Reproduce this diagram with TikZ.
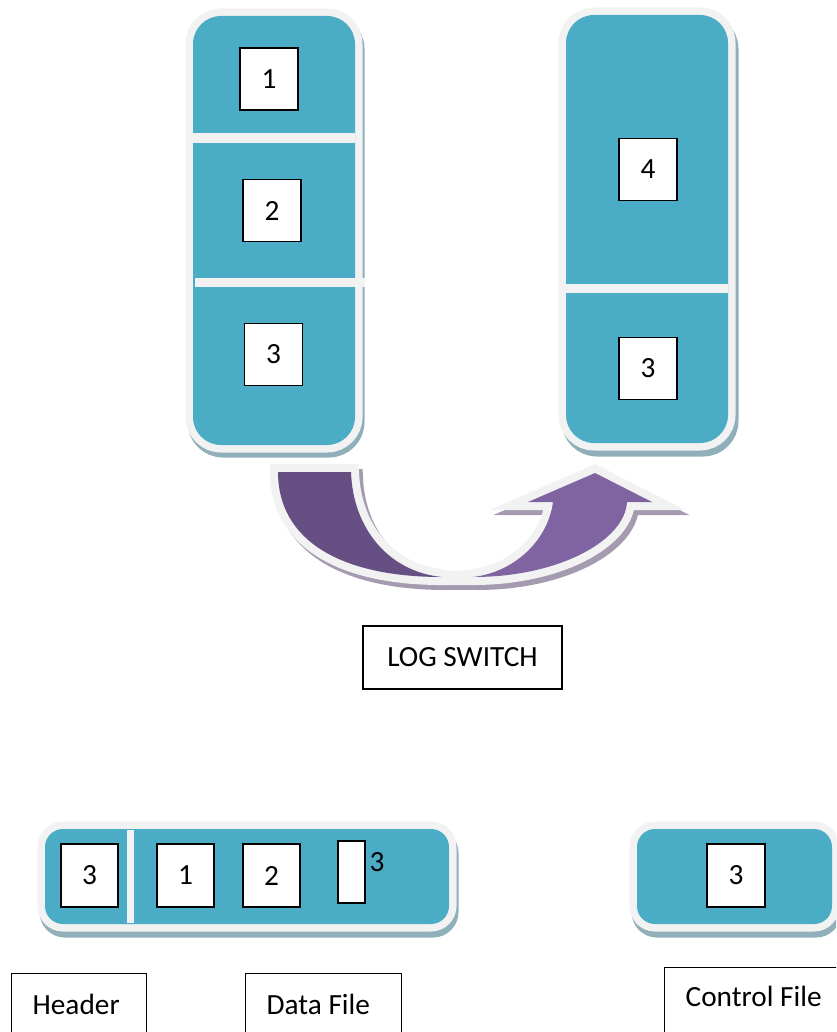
\documentclass[tikz,border=0pt]{standalone}
\usepackage{fontspec}
\setmainfont{Carlito}
\definecolor{tealfill}{HTML}{4BACC6}
\definecolor{bordergray}{HTML}{F2F2F2}
\definecolor{tealshadow}{HTML}{8FB0BA}
\definecolor{darkpurple}{HTML}{664F83}
\definecolor{lightpurple}{HTML}{8064A2}
\definecolor{purpleshadow}{HTML}{A59BB1}
\begin{document}
\begin{tikzpicture}[x=1pt,y=-1pt,
  colshadow/.style={fill=tealshadow, draw=tealshadow, line width=15pt},
  colborder/.style={draw=bordergray, line width=15pt},
  arrshadow/.style={fill=purpleshadow, draw=purpleshadow, line width=16pt, line join=miter},
  arrborder/.style={draw=bordergray, line width=16pt, line join=miter},
  bigfont/.style={font=\fontsize{29.3}{35}\selectfont},
  slot/.style={draw=black, line width=1.3pt, fill=white, minimum width=58pt, minimum height=62pt, inner sep=0pt, bigfont},
  labelbox/.style={draw=black, line width=1.3pt, fill=white, inner xsep=21pt, inner ysep=15pt, bigfont},
]
\useasboundingbox (0,0) rectangle (836,1032);
\clip (0,0) rectangle (836,1032);

% ---------- left column ----------
\path[colshadow, rounded corners=28pt] (195,21) rectangle (357,450);
\path[colborder, rounded corners=28pt] (193,16) rectangle (355,445);
\fill[tealfill, rounded corners=28pt] (193,16) rectangle (355,445);
\fill[bordergray] (193,133) rectangle (355,143);
\fill[bordergray] (195,278) rectangle (365,287);
\node[slot] (l1) at (269,79) {1};
\node[slot] (l2) at (272,210.5) {2};
\node[slot] (l3) at (273.5,354.5) {3};

% ---------- right column ----------
\path[colshadow, rounded corners=28pt] (569,21) rectangle (731,449);
\path[colborder, rounded corners=28pt] (566,15) rectangle (728,443);
\fill[tealfill, rounded corners=28pt] (566,15) rectangle (728,443);
\fill[bordergray] (566,284) rectangle (728,293);
\node[slot] (r4) at (648,169.5) {4};
\node[slot] (r3) at (648,368.5) {3};

% ---------- U-turn arrow ----------
\begin{scope}[shift={(4,5)}]
  \path[arrshadow] (278,472) -- (351,472) .. controls (353,530) and (390,572) .. (442,577)
     .. controls (340,577) and (278,540) .. (278,472) -- cycle;
  \path[arrshadow] (473,577) .. controls (560,577) and (625,540) .. (627,502) -- (652,502) -- (595,473)
     -- (528,502) -- (553,502) .. controls (548,540) and (515,572) .. (473,577) -- cycle;
  \fill[purpleshadow] (436,569) -- (480,569) -- (480,585) -- (436,585) -- cycle;
\end{scope}
\path[arrborder] (278,472) -- (351,472) .. controls (353,530) and (390,572) .. (442,577)
   .. controls (340,577) and (278,540) .. (278,472) -- cycle;
\path[arrborder] (473,577) .. controls (560,577) and (625,540) .. (627,502) -- (652,502) -- (595,473)
   -- (528,502) -- (553,502) .. controls (548,540) and (515,572) .. (473,577) -- cycle;
\fill[bordergray] (436,569) -- (455,571) -- (478,569) -- (478,585) -- (436,585) -- cycle;
\fill[darkpurple] (278,472) -- (351,472) .. controls (353,530) and (390,572) .. (442,577)
   .. controls (340,577) and (278,540) .. (278,472) -- cycle;
\fill[lightpurple] (473,577) .. controls (560,577) and (625,540) .. (627,502) -- (652,502) -- (595,473)
   -- (528,502) -- (553,502) .. controls (548,540) and (515,572) .. (473,577) -- cycle;

% ---------- LOG SWITCH ----------
\node[draw=black, line width=1.3pt, fill=white, minimum width=199pt, minimum height=63pt, inner sep=0pt, bigfont] (logswitch) at (462.5,657.5) {LOG SWITCH};

% ---------- data file bar ----------
\path[colshadow, rounded corners=18pt] (47,835) rectangle (451,930);
\path[colborder, rounded corners=18pt] (45,829) rectangle (449,924);
\fill[tealfill, rounded corners=18pt] (45,829) rectangle (449,924);
\fill[bordergray] (127,830) rectangle (134,923);
\node[slot, minimum width=57pt, minimum height=63pt] (b3) at (89.5,875.5) {3};
\node[slot, minimum width=57pt, minimum height=63pt] (b1) at (185.5,875.5) {1};
\node[slot, minimum width=57pt, minimum height=63pt] (b2) at (271.5,875.5) {2};
\node[slot, minimum width=27pt, minimum height=62pt] (bthin) at (351.5,872) {};
\node[bigfont, inner sep=0pt] (bthinlabel) at (377,862) {3};

% ---------- control file bar ----------
\path[colshadow, rounded corners=18pt] (639,835) rectangle (834,930);
\path[colborder, rounded corners=18pt] (637,829) rectangle (832,924);
\fill[tealfill, rounded corners=18pt] (637,829) rectangle (832,924);
\node[slot, minimum width=58pt, minimum height=63pt] (c3) at (736,875.5) {3};

% ---------- labels ----------
\node[labelbox, anchor=north west, text height=26pt, text depth=20pt] (header) at (11,973) {\makebox[93pt][l]{Header}};
\node[labelbox, anchor=north west, text height=26pt, text depth=20pt] (datafile) at (245,973) {\makebox[114pt][l]{Data File}};
\node[labelbox, anchor=north west, text height=24pt, text depth=20pt] (controlfile) at (664,967) {\makebox[136pt][l]{Control File}};
\end{tikzpicture}
\end{document}
